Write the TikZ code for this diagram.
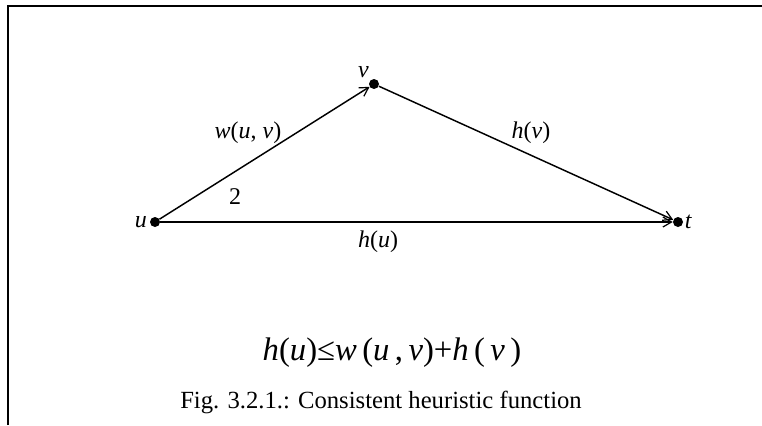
\documentclass[tikz,border=0pt]{standalone}
\usepackage{fontspec}
\setmainfont{Liberation Serif}
\usetikzlibrary{arrows.meta}

\tikzset{
  vtx/.style={circle, fill=black, inner sep=0pt, minimum size=7.5pt},
  edge/.style={line width=1.1pt, -{Straight Barb[length=6.5pt, width=7.5pt, line width=0.9pt]}},
  lbl/.style={font=\fontsize{18}{21}\selectfont, inner sep=1pt}
}

\begin{document}
\begin{tikzpicture}[x=0.75pt, y=-0.75pt]
  \useasboundingbox (0,0) rectangle (762,425);
  % frame
  \draw[line width=1.1pt] (8,425) -- (8,6) -- (762,6);
  % vertices
  \node[vtx] (u) at (155,222) {};
  \node[vtx] (v) at (374,84) {};
  \node[vtx] (t) at (678,222) {};
  \node[lbl, anchor=east] at ([xshift=-1pt]u.west) {\textit{u}};
  \node[lbl, anchor=south east] at ([xshift=0pt,yshift=1pt]v.north west) {\textit{v}};
  \node[lbl, anchor=west] at (t.east) {\textit{t}};
  % edges
  \draw[edge] (u) -- (v);
  \draw[edge] (v) -- (t);
  \draw[edge] (u) -- (t);
  \node[lbl] (wuv) at (248,133) {\textit{w}(\textit{u}, \textit{v})};
  \node[lbl] (two) at (235,197) {2};
  \node[lbl] (hv) at (531,133) {\textit{h}(\textit{v})};
  \node[lbl] (hu) at (378,242) {\textit{h}(\textit{u})};
  % formula and caption
  \node[font=\fontsize{24.5}{28}\selectfont] (eq) at (392,353)
    {\textit{h}(\textit{u})≤\textit{w}\,(\textit{u}\,,\,\textit{v})+\textit{h}\,(\,\textit{v}\,)};
  \node[font=\fontsize{18.5}{22}\selectfont] (cap) at (381,402) {Fig. 3.2.1.: Consistent heuristic function};
\end{tikzpicture}
\end{document}
